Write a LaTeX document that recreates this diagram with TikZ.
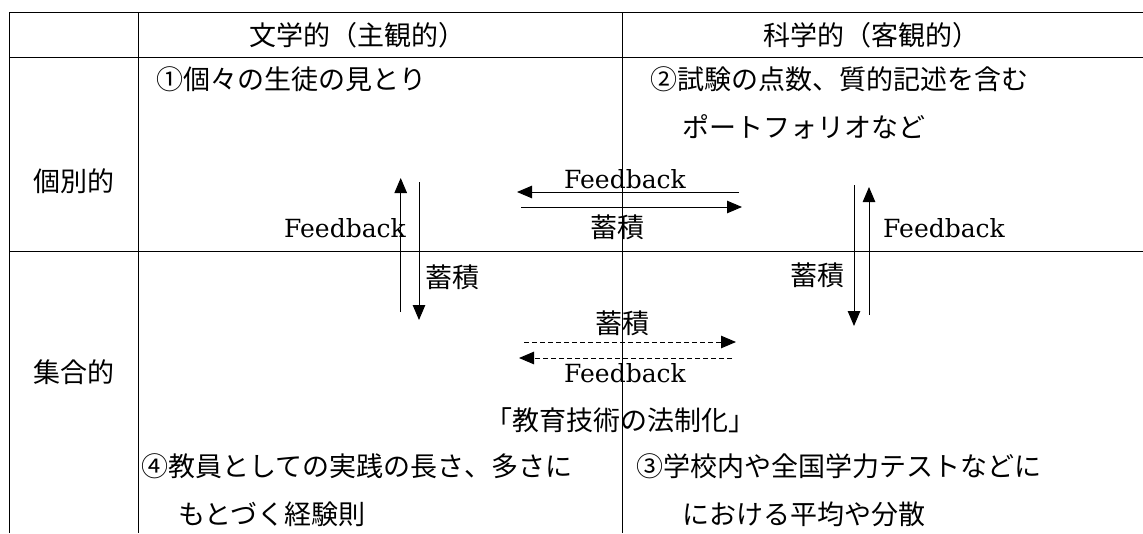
\documentclass[tikz,border=0pt]{standalone}
\usepackage{fontspec}
\newfontfamily\jp{Noto Sans CJK JP}
\newfontfamily\lat{DejaVu Serif}
\usetikzlibrary{arrows.meta}
\tikzset{
  grid/.style={line width=0.9pt},
  arr/.style={line width=0.9pt,-{Triangle[length=15pt,width=12.5pt]}},
  darr/.style={arr,dash pattern=on 5pt off 3pt},
  jt/.style={inner sep=0pt,font=\jp\fontsize{27}{30}\selectfont},
  lt/.style={inner sep=0pt,font=\lat\fontsize{25}{28}\selectfont},
}
\begin{document}
\begin{tikzpicture}[x=1pt,y=-1pt]
\useasboundingbox (0,0) rectangle (1143,533);
% table
\draw[grid] (9,12) -- (1143,12);
\draw[grid] (9,57.5) -- (1143,57.5);
\draw[grid] (9,251) -- (1143,251);
\draw[grid] (9,12) -- (9,533);
\draw[grid] (138,12) -- (138,533);
\draw[grid] (622.5,12) -- (622.5,533);
% headers
\node[jt] (h1) at (357,35) {文学的（主観的）};
\node[jt] (h2) at (871,35) {科学的（客観的）};
\node[jt] (r1) at (74,181) {個別的};
\node[jt] (r2) at (74,372) {集合的};
% cell texts
\node[jt,anchor=west] (c1) at (156,79) {①個々の生徒の見とり};
\node[jt,anchor=west] (c2a) at (650,79) {②試験の点数、質的記述を含む};
\node[jt,anchor=west] (c2b) at (682,127) {ポートフォリオなど};
\node[jt,anchor=west] (c4a) at (141,466) {④教員としての実践の長さ、多さに};
\node[jt,anchor=west] (c4b) at (178,514) {もとづく経験則};
\node[jt,anchor=west] (c3a) at (636,466) {③学校内や全国学力テストなどに};
\node[jt,anchor=west] (c3b) at (682,514) {における平均や分散};
\node[jt] (law) at (620,420) {「教育技術の法制化」};
% arrow end points
\coordinate (lu1) at (400.7,312);
\coordinate (lu2) at (400.7,178);
\coordinate (ld1) at (419,182);
\coordinate (ld2) at (419,320);
\coordinate (tl1) at (739,192);
\coordinate (tl2) at (517,192);
\coordinate (tr1) at (521,207);
\coordinate (tr2) at (742,207);
\coordinate (rd1) at (854,185);
\coordinate (rd2) at (854,326);
\coordinate (ru1) at (869,315);
\coordinate (ru2) at (869,187);
\coordinate (dr1) at (524,342);
\coordinate (dr2) at (736,342);
\coordinate (dl1) at (732,358);
\coordinate (dl2) at (519,358);
% arrows
\draw[arr] (lu1) -- (lu2);
\draw[arr] (ld1) -- (ld2);
\draw[arr] (tl1) -- (tl2);
\draw[arr] (tr1) -- (tr2);
\draw[arr] (rd1) -- (rd2);
\draw[arr] (ru1) -- (ru2);
\draw[darr] (dr1) -- (dr2);
\draw[darr] (dl1) -- (dl2);
% arrow labels
\node[lt] (fb1) at (625,179) {Feedback};
\node[jt] (ac1) at (617,227) {蓄積};
\node[lt,anchor=east] (fb2) at (406,228) {Feedback};
\node[jt] (ac2) at (452,277) {蓄積};
\node[jt] (ac3) at (817,275) {蓄積};
\node[lt,anchor=west] (fb3) at (883,228) {Feedback};
\node[jt] (ac4) at (622,323) {蓄積};
\node[lt] (fb4) at (625,373) {Feedback};
\end{tikzpicture}
\end{document}
